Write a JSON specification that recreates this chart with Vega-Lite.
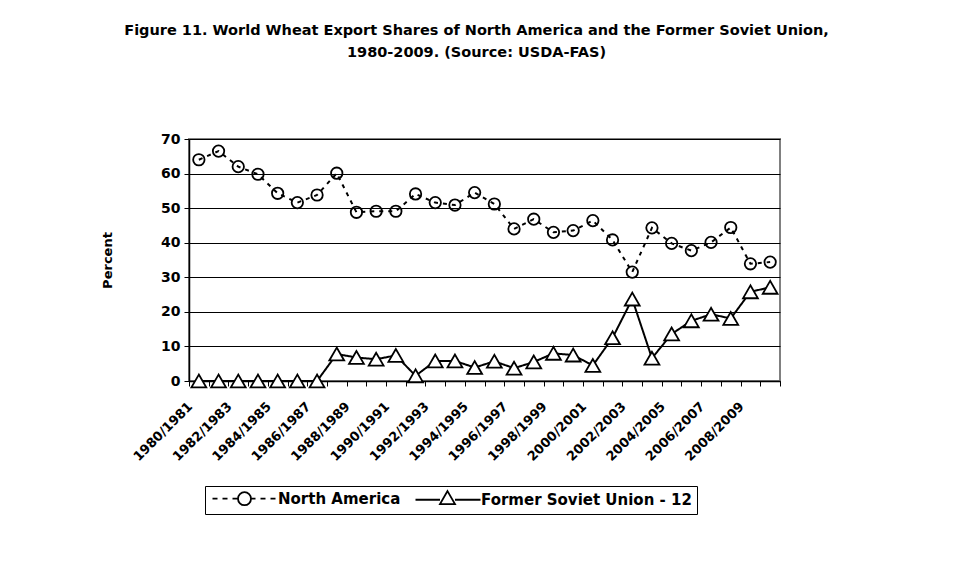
{
  "$schema": "https://vega.github.io/schema/vega-lite/v6.json",
  "width": 591,
  "height": 242,
  "autosize": {"type": "none"},
  "padding": {"left": 189, "top": 139, "right": 173, "bottom": 183},
  "background": "white",
  "title": {
    "text": ["Figure 11.  World Wheat Export Shares of North America and the Former Soviet Union,", "1980-2009. (Source: USDA-FAS)"],
    "font": "DejaVu Sans",
    "fontSize": 14.5,
    "fontWeight": "bold",
    "color": "black",
    "anchor": "middle",
    "offset": 72,
    "lineHeight": 22,
    "dx": -8
  },
  "config": {"view": {"stroke": "#808080", "strokeWidth": 2}, "font": "DejaVu Sans"},
  "datasets": {
    "rows": [
      {"year": "1980/1981", "series": "North America", "value": 64.0},
      {"year": "1981/1982", "series": "North America", "value": 66.5},
      {"year": "1982/1983", "series": "North America", "value": 62.0},
      {"year": "1983/1984", "series": "North America", "value": 59.8},
      {"year": "1984/1985", "series": "North America", "value": 54.3},
      {"year": "1985/1986", "series": "North America", "value": 51.6},
      {"year": "1986/1987", "series": "North America", "value": 53.8},
      {"year": "1987/1988", "series": "North America", "value": 60.1},
      {"year": "1988/1989", "series": "North America", "value": 48.8},
      {"year": "1989/1990", "series": "North America", "value": 49.1},
      {"year": "1990/1991", "series": "North America", "value": 49.1},
      {"year": "1991/1992", "series": "North America", "value": 54.1},
      {"year": "1992/1993", "series": "North America", "value": 51.6},
      {"year": "1993/1994", "series": "North America", "value": 50.9},
      {"year": "1994/1995", "series": "North America", "value": 54.5},
      {"year": "1995/1996", "series": "North America", "value": 51.2},
      {"year": "1996/1997", "series": "North America", "value": 44.0},
      {"year": "1997/1998", "series": "North America", "value": 46.8},
      {"year": "1998/1999", "series": "North America", "value": 43.0},
      {"year": "1999/2000", "series": "North America", "value": 43.5},
      {"year": "2000/2001", "series": "North America", "value": 46.4},
      {"year": "2001/2002", "series": "North America", "value": 40.8},
      {"year": "2002/2003", "series": "North America", "value": 31.5},
      {"year": "2003/2004", "series": "North America", "value": 44.3},
      {"year": "2004/2005", "series": "North America", "value": 39.8},
      {"year": "2005/2006", "series": "North America", "value": 37.7},
      {"year": "2006/2007", "series": "North America", "value": 40.1},
      {"year": "2007/2008", "series": "North America", "value": 44.4},
      {"year": "2008/2009", "series": "North America", "value": 33.9},
      {"year": "2009/2010", "series": "North America", "value": 34.4},
      {"year": "1980/1981", "series": "Former Soviet Union - 12", "value": 0},
      {"year": "1981/1982", "series": "Former Soviet Union - 12", "value": 0},
      {"year": "1982/1983", "series": "Former Soviet Union - 12", "value": 0},
      {"year": "1983/1984", "series": "Former Soviet Union - 12", "value": 0},
      {"year": "1984/1985", "series": "Former Soviet Union - 12", "value": 0},
      {"year": "1985/1986", "series": "Former Soviet Union - 12", "value": 0},
      {"year": "1986/1987", "series": "Former Soviet Union - 12", "value": 0},
      {"year": "1987/1988", "series": "Former Soviet Union - 12", "value": 7.8},
      {"year": "1988/1989", "series": "Former Soviet Union - 12", "value": 6.8},
      {"year": "1989/1990", "series": "Former Soviet Union - 12", "value": 6.3},
      {"year": "1990/1991", "series": "Former Soviet Union - 12", "value": 7.4},
      {"year": "1991/1992", "series": "Former Soviet Union - 12", "value": 1.5},
      {"year": "1992/1993", "series": "Former Soviet Union - 12", "value": 5.8},
      {"year": "1993/1994", "series": "Former Soviet Union - 12", "value": 5.8},
      {"year": "1994/1995", "series": "Former Soviet Union - 12", "value": 3.9},
      {"year": "1995/1996", "series": "Former Soviet Union - 12", "value": 5.7},
      {"year": "1996/1997", "series": "Former Soviet Union - 12", "value": 3.7},
      {"year": "1997/1998", "series": "Former Soviet Union - 12", "value": 5.5},
      {"year": "1998/1999", "series": "Former Soviet Union - 12", "value": 8.0},
      {"year": "1999/2000", "series": "Former Soviet Union - 12", "value": 7.5},
      {"year": "2000/2001", "series": "Former Soviet Union - 12", "value": 4.5},
      {"year": "2001/2002", "series": "Former Soviet Union - 12", "value": 12.5},
      {"year": "2002/2003", "series": "Former Soviet Union - 12", "value": 23.7},
      {"year": "2003/2004", "series": "Former Soviet Union - 12", "value": 6.6},
      {"year": "2004/2005", "series": "Former Soviet Union - 12", "value": 13.6},
      {"year": "2005/2006", "series": "Former Soviet Union - 12", "value": 17.4},
      {"year": "2006/2007", "series": "Former Soviet Union - 12", "value": 19.3},
      {"year": "2007/2008", "series": "Former Soviet Union - 12", "value": 18.1},
      {"year": "2008/2009", "series": "Former Soviet Union - 12", "value": 25.8},
      {"year": "2009/2010", "series": "Former Soviet Union - 12", "value": 27.1}
    ]
  },
  "data": {"name": "rows"},
  "encoding": {
    "x": {
      "field": "year",
      "type": "nominal",
      "sort": null,
      "scale": {"type": "band", "paddingInner": 0, "paddingOuter": 0},
      "axis": {
        "title": null,
        "labelExpr": "toNumber(substring(datum.value, 0, 4)) % 2 == 0 ? datum.value : ''",
        "labelAngle": -45,
        "labelAlign": "right",
        "labelBaseline": "middle",
        "labelPadding": 18,
        "labelOffset": -9,
        "labelOverlap": false,
        "labelFont": "DejaVu Sans",
        "labelFontSize": 13,
        "labelFontWeight": "bold",
        "labelColor": "black",
        "tickBand": "extent",
        "tickSize": 5,
        "tickColor": "black",
        "domainColor": "black",
        "domainWidth": 1.5,
        "grid": false
      }
    },
    "y": {
      "field": "value",
      "type": "quantitative",
      "scale": {"domain": [0, 70]},
      "axis": {
        "values": [0, 10, 20, 30, 40, 50, 60, 70],
        "grid": true,
        "gridColor": "black",
        "gridOpacity": 1,
        "gridWidth": 1,
        "domainColor": "black",
        "domainWidth": 1.5,
        "tickColor": "black",
        "tickSize": 5,
        "labelFont": "DejaVu Sans",
        "labelFontSize": 14,
        "labelFontWeight": "bold",
        "labelColor": "black",
        "labelPadding": 4,
        "title": "Percent",
        "titleFont": "DejaVu Sans",
        "titleFontSize": 13,
        "titleFontWeight": "bold",
        "titleColor": "black",
        "titlePadding": 46
      }
    }
  },
  "layer": [
    {
      "mark": {"type": "line", "color": "black", "strokeWidth": 2},
      "encoding": {
        "detail": {"field": "series", "type": "nominal"},
        "strokeDash": {
          "condition": {"test": "datum.series === 'North America'", "value": [4, 5]},
          "value": [1, 0]
        }
      }
    },
    {
      "mark": {"type": "point", "filled": true, "stroke": "black", "strokeWidth": 1.8, "opacity": 1},
      "encoding": {
        "shape": {
          "condition": {"test": "datum.series === 'North America'", "value": "circle"},
          "value": "triangle-up"
        },
        "size": {
          "condition": {"test": "datum.series === 'North America'", "value": 130},
          "value": 220
        },
        "fill": {
          "condition": {"test": "datum.series === 'North America'", "value": "transparent"},
          "value": "white"
        }
      }
    },
    {
      "mark": {"type": "point", "filled": false, "opacity": 0, "size": 1},
      "encoding": {
        "shape": {
          "field": "series",
          "type": "nominal",
          "scale": {
            "domain": ["North America", "Former Soviet Union - 12"],
            "range": [
              "M-1,0L0,0M1,0L2,0M3,0L4.1,0M6.7,0L7.6,0M8.6,0L9.6,0M10.6,0L11.6,0M6.7,0A1.3,1.3 0 1,1 4.1,0A1.3,1.3 0 1,1 6.7,0Z",
              "M-1,0L3.9,0M6.9,0L12,0M5.4,-1.73L6.9,0.87L3.9,0.87Z"
            ]
          },
          "legend": {
            "orient": "none",
            "legendX": 16,
            "legendY": 347,
            "direction": "horizontal",
            "title": null,
            "labelFont": "DejaVu Sans",
            "labelFontSize": 15,
            "labelFontWeight": "bold",
            "labelColor": "black",
            "labelLimit": 400,
            "symbolSize": 100,
            "symbolOpacity": 1,
            "symbolStrokeWidth": 1.8,
            "symbolStrokeColor": "black",
            "symbolFillColor": "white",
            "labelOffset": 53,
            "columnPadding": 10,
            "padding": 5,
            "strokeColor": "black",
            "fillColor": "white"
          }
        }
      }
    }
  ]
}
